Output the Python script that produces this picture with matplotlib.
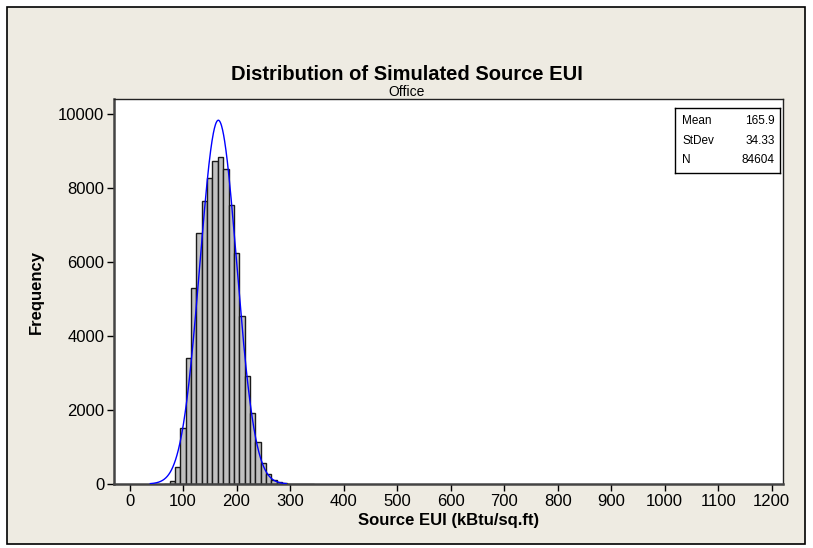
import numpy as np
import matplotlib.pyplot as plt
from matplotlib.patches import Rectangle

# histogram data (bin midpoints, counts)
bin_mid = [70, 80, 90, 100, 110, 120, 130, 140, 150, 160, 170, 180, 190, 200,
           210, 220, 230, 240, 250, 260, 270, 280, 290, 300, 310, 320, 330, 340]
counts = [10, 70, 468, 1505, 3397, 5306, 6775, 7658, 8261, 8730, 8838, 8505,
          7532, 6234, 4540, 2928, 1928, 1135, 559, 260, 110, 45, 20, 10, 6, 4, 3, 2]
bin_width = 10

mean = 165.9
stdev = 34.33
n = 84604

title = 'Distribution of Simulated Source EUI'
subtitle = 'Office'
xticks = list(range(0, 1300, 100))
yticks = list(range(0, 12000, 2000))

bg = '#EEEBE2'
plt.rcParams['font.family'] = ['Liberation Sans', 'DejaVu Sans']

fig = plt.figure(figsize=(8.13, 5.48), dpi=100)
fig.patch.set_facecolor('white')
# beige panel with black border
fig.patches.append(Rectangle((7/813, 4/548), 798/813, 537/548, transform=fig.transFigure,
                             facecolor=bg, edgecolor='black', lw=1.2, zorder=-1))

ax = fig.add_axes([114/813, 1 - 484/548, 669/813, 385/548])
ax.set_facecolor('white')

ax.bar(bin_mid, counts, width=bin_width, color='#C0C0C0', edgecolor='#1a1a1a',
       linewidth=1.0, align='center', zorder=2)

# fitted normal curve from the reported statistics
xs = np.linspace(mean - 3.7 * stdev, mean + 3.7 * stdev, 400)
ys = n * bin_width / (stdev * np.sqrt(2 * np.pi)) * np.exp(-0.5 * ((xs - mean) / stdev) ** 2)
ax.plot(xs, ys, color='#0000FF', lw=1.0, zorder=3)

ax.set_xlim(-29, 1221)
ax.set_ylim(0, 10405)
ax.set_xticks(xticks)
ax.set_yticks(yticks)
ax.tick_params(direction='out', length=5, width=1, labelsize=12, colors='black', pad=2)
for side in ['left', 'bottom']:
    ax.spines[side].set_linewidth(1.8)
    ax.spines[side].set_color('#444444')
for side in ['top', 'right']:
    ax.spines[side].set_linewidth(1.0)
    ax.spines[side].set_color('#222222')

ax.set_xlabel('Source EUI (kBtu/sq.ft)', fontsize=12, fontweight='bold', labelpad=3)
ax.set_ylabel('Frequency', fontsize=12, fontweight='bold', labelpad=10)

fig.text(0.5, 1 - 75/548, title, ha='center', va='center', fontsize=14.5, fontweight='bold')
fig.text(0.5, 1 - 92/548, subtitle, ha='center', va='center', fontsize=10)

# stats box
box_ax = fig.add_axes([675/813, 1 - 173/548, 105/813, 65/548])
box_ax.set_xticks([])
box_ax.set_yticks([])
for s in box_ax.spines.values():
    s.set_linewidth(1.0)
    s.set_color('black')
labels = ['Mean', 'StDev', 'N']
values = ['165.9', '34.33', '84604']
for i, (lab, val) in enumerate(zip(labels, values)):
    yy = 0.8 - i * 0.3
    box_ax.text(0.07, yy, lab, fontsize=8.5, va='center', ha='left', transform=box_ax.transAxes)
    box_ax.text(0.95, yy, val, fontsize=8.5, va='center', ha='right', transform=box_ax.transAxes)

fig.savefig('out.png', dpi=100, facecolor=fig.get_facecolor())
